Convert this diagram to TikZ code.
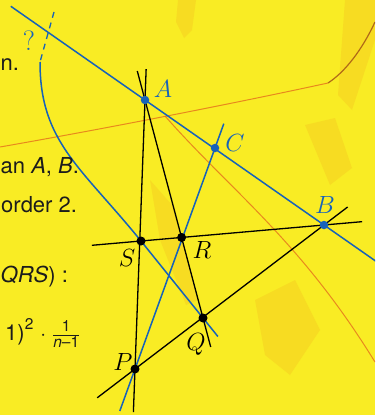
\documentclass[tikz,border=0pt]{standalone}
\usepackage{fontspec}
\setsansfont{TeX Gyre Heros}
\usetikzlibrary{calc}
\definecolor{paper}{RGB}{249,236,36}
\definecolor{crease}{RGB}{228,112,28}
\definecolor{blotch}{RGB}{240,165,30}
\definecolor{lineblue}{RGB}{22,98,186}
\definecolor{ink}{RGB}{28,28,28}
\tikzset{
  blk/.style={draw=black, line width=1.3pt},
  blu/.style={draw=lineblue, line width=1.5pt},
  bdot/.style={circle, fill=black, inner sep=0pt, minimum size=9pt},
  udot/.style={circle, fill=lineblue, inner sep=0pt, minimum size=8.5pt},
  lblk/.style={font=\fontsize{24}{28}\selectfont, text=black, inner sep=0pt},
  lblu/.style={font=\fontsize{24}{28}\selectfont, text=lineblue, inner sep=0pt},
  txt/.style={font=\sffamily\fontsize{22}{26}\selectfont, text=ink, anchor=base west, inner sep=0pt},
  fold/.style={fill=blotch, opacity=0.22},
}
\newcommand{\smallsf}{\sffamily\fontsize{15.5}{16}\selectfont}
\begin{document}
\begin{tikzpicture}[x=1pt,y=-1pt]
\fill[paper] (0,0) rectangle (375,415);
\useasboundingbox (0,0) rectangle (375,415);
\clip (0,0) rectangle (375,415);
% paper texture
\fill[fold] (178,0) -- (196,0) -- (192,30) -- (184,38) -- (176,22) -- cycle;
\fill[fold] (345,0) -- (375,0) -- (375,40) -- (352,110) -- (338,95) -- cycle;
\fill[fold] (150,180) -- (172,205) -- (198,300) -- (186,305) -- (160,240) -- cycle;
\fill[fold] (255,300) -- (295,280) -- (320,330) -- (290,375) -- (265,355) -- cycle;
\fill[fold] (305,125) -- (335,118) -- (352,168) -- (330,185) -- cycle;
\draw[crease, line width=1pt, opacity=0.8] (0,147) .. controls (120,126) and (250,100) .. (328,83);
\draw[crease!70!black, line width=1.2pt, opacity=0.8] (328,83) .. controls (345,72) and (362,50) .. (375,22);
\draw[crease, line width=1pt, opacity=0.8] (165,116) .. controls (230,190) and (300,240) .. (375,362);
% base points
\coordinate (A) at (145,100);
\coordinate (B) at (324,225);
\coordinate (C) at (215,148);
\coordinate (S) at (141,241);
\coordinate (Q) at (203,318);
\coordinate (P) at (135,369);
\coordinate (R) at (intersection of A--Q and S--B);
% line ends
\coordinate (ab1) at ($(A)!-0.75!(B)$);
\coordinate (ab2) at ($(A)!1.3!(B)$);
\coordinate (ap1) at ($(A)!-0.115!(P)$);
\coordinate (ap2) at ($(A)!1.16!(P)$);
\coordinate (aq1) at ($(A)!-0.133!(Q)$);
\coordinate (aq2) at ($(A)!1.133!(Q)$);
\coordinate (sb1) at ($(S)!-0.268!(B)$);
\coordinate (sb2) at ($(S)!1.208!(B)$);
\coordinate (pb1) at ($(P)!-0.2!(B)$);
\coordinate (pb2) at ($(P)!1.125!(B)$);
\coordinate (cp1) at ($(C)!-0.11!(P)$);
\coordinate (cp2) at ($(C)!1.19!(P)$);
\coordinate (sq2) at ($(S)!1.24!(Q)$);
\coordinate (cv0) at (40,62);
\coordinate (dq) at (54,12);
% lines
\draw[blu] (ab1) -- (ab2);
\draw[blk] (ap1) -- (ap2);
\draw[blk] (aq1) -- (aq2);
\draw[blk] (sb1) -- (sb2);
\draw[blk] (pb1) -- (pb2);
\draw[blu] (cp1) -- (cp2);
\draw[blu] (cv0) .. controls (40,142) and (81,167) .. (S) -- (sq2);
\draw[blu, line width=1.3pt, dash pattern=on 6pt off 5pt] (dq) -- (cv0);
% points
\node[udot] (nA) at (A) {};
\node[udot] (nB) at (B) {};
\node[udot] (nC) at (C) {};
\node[bdot] (nS) at (S) {};
\node[bdot] (nR) at (R) {};
\node[bdot] (nQ) at (Q) {};
\node[bdot] (nP) at (P) {};
% labels
\node[lblu] (lA) at (163,89) {$A$};
\node[lblu] (lB) at (325,205) {$B$};
\node[lblu] (lC) at (235,143) {$C$};
\node[lblk] (lS) at (127,258) {$S$};
\node[lblk] (lR) at (202,250) {$R$};
\node[lblk] (lQ) at (196,344) {$Q$};
\node[lblk] (lP) at (123,362) {$P$};
\node[lblu, font=\fontsize{28}{30}\selectfont] (lq) at (29,41) {?};
% text
\node[txt] (t1) at (0.5,70) {n.};
\node[txt] (t2) at (0.5,173) {an \textit{A}, \textit{B}.};
\node[txt] (t3) at (1,212) {order 2.};
\node[txt] (t4) at (0.5,282) {\textit{QRS}) :};
\node[txt] (t5) at (5,340) {1)\raisebox{0.5em}{\smallsf 2}\hspace{7pt}$\cdot$\hspace{6pt}$\frac{\mbox{\smallsf 1}}{\mbox{\smallsf\itshape n}\mbox{\smallsf \textendash 1}}$};
\end{tikzpicture}
\end{document}
